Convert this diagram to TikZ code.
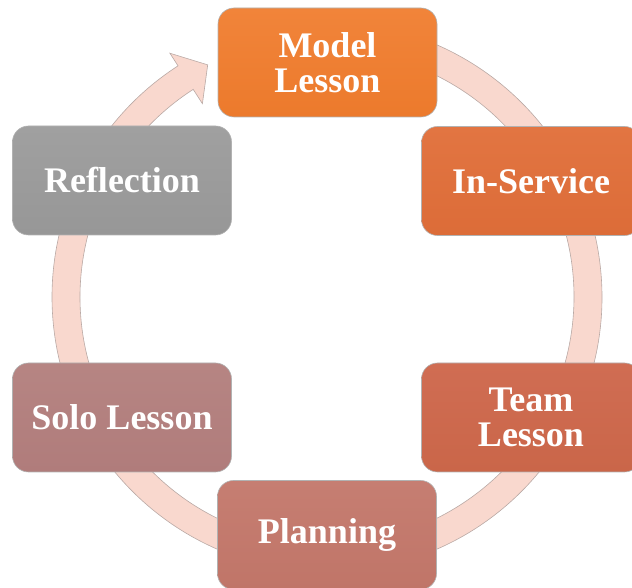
\documentclass[tikz,border=0pt]{standalone}
\usepackage{fontspec}
\setmainfont{Liberation Serif}
\definecolor{ringfill}{HTML}{F9D8CE}
\definecolor{ringline}{HTML}{B9A9A5}
\definecolor{cModelT}{HTML}{F1843A}\definecolor{cModelB}{HTML}{EC7A2C}
\definecolor{cServT}{HTML}{E27542}\definecolor{cServB}{HTML}{DC6C38}
\definecolor{cTeamT}{HTML}{D06D53}\definecolor{cTeamB}{HTML}{CA6649}
\definecolor{cPlanT}{HTML}{C67E72}\definecolor{cPlanB}{HTML}{C07568}
\definecolor{cSoloT}{HTML}{B68583}\definecolor{cSoloB}{HTML}{B07C7B}
\definecolor{cReflT}{HTML}{A0A0A0}\definecolor{cReflB}{HTML}{979797}
\begin{document}
\begin{tikzpicture}[x=1pt,y=1pt,
  stage/.style={rounded corners=16pt, draw=black!30, line width=0.6pt,
    minimum width=219pt, minimum height=109pt, inner sep=0pt,
    align=center, text=white, font=\fontsize{36}{35}\selectfont\bfseries},
  ring/.style={fill=ringfill, draw=ringline, line width=0.6pt}]
\useasboundingbox (0,0) rectangle (632,588);
\clip (0,0) rectangle (632,588);
% circular arrow
\begin{scope}[shift={(327,291)}]
\draw[ring] (95:275) arc[start angle=95, end angle=-237.2, radius=275]
  -- (-237.2:290) -- (-242.8:261) -- (-237.2:230) -- (-237.2:247)
  arc[start angle=-237.2, end angle=95, radius=247] -- cycle;
\end{scope}
% stages
\node[stage, top color=cModelT, bottom color=cModelB] (model) at (327.5,525.5) {Model\\Lesson};
\node[stage, top color=cServT, bottom color=cServB] (serv) at (531,407) {In-Service};
\node[stage, top color=cTeamT, bottom color=cTeamB] (team) at (531,170.5) {Team\\Lesson};
\node[stage, top color=cPlanT, bottom color=cPlanB] (plan) at (327,53) {Planning};
\node[stage, top color=cSoloT, bottom color=cSoloB] (solo) at (122,170.5) {Solo Lesson};
\node[stage, top color=cReflT, bottom color=cReflB] (refl) at (122,407.5) {Reflection};
\end{tikzpicture}
\end{document}
